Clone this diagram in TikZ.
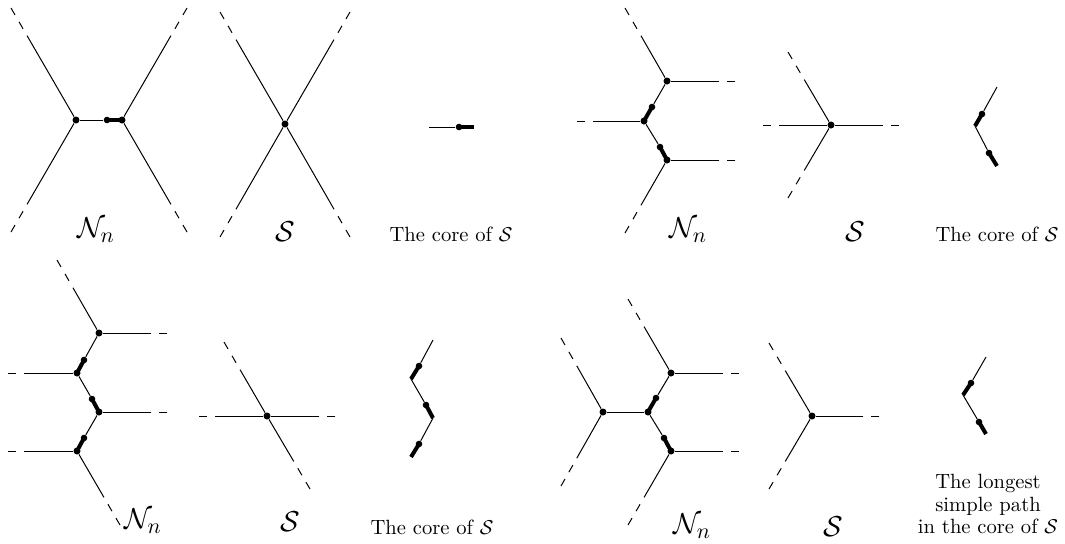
\documentclass[tikz,border=0pt]{standalone}
\begin{document}
\begin{tikzpicture}[x=0.5pt,y=-0.5pt,
  vtx/.style={circle,fill=black,inner sep=0pt,minimum size=3.5pt},
  tdot/.style={circle,fill=black,inner sep=0pt,minimum size=3.3pt},
  thinedge/.style={line width=0.5pt},
  thickedge/.style={line width=2pt},
  out2/.style={line width=0.5pt,dash pattern=on 4pt off 4pt on 4pt off 4pt on 400pt},
  out1/.style={line width=0.5pt,dash pattern=on 4pt off 4pt on 400pt},
  lab/.style={font=\fontsize{15}{17}\selectfont,inner sep=0pt},
  txt/.style={font=\fontsize{10.3}{11.3}\selectfont,align=center,inner sep=0pt}]
\useasboundingbox (0,0) rectangle (1065,543);

% ---------- Panel 1: N_n (top left)
\node[vtx] (A1) at (76,120) {};
\node[vtx] (B1) at (122,120) {};
\node[tdot] (D1) at (107,120) {};
\coordinate (a1) at (11,8);
\coordinate (a2) at (11,232);
\coordinate (b1) at (187,8);
\coordinate (b2) at (187,232);
\draw[thinedge] (A1) -- (D1);
\draw[thickedge] (D1.center) -- (B1.center);
\draw[out2] (a1) -- (A1);
\draw[out2] (a2) -- (A1);
\draw[out2] (b1) -- (B1);
\draw[out2] (b2) -- (B1);
\node[lab] (L1) at (96,230) {$\mathcal{N}_n$};

% ---------- Panel 2: S (top)
\node[vtx] (C2) at (285,124) {};
\coordinate (c21) at (220,12);
\coordinate (c22) at (350,12);
\coordinate (c23) at (220,237);
\coordinate (c24) at (350,237);
\draw[out2] (c21) -- (C2);
\draw[out2] (c22) -- (C2);
\draw[out2] (c23) -- (C2);
\draw[out2] (c24) -- (C2);
\node[lab] (L2) at (285,232) {$\mathcal{S}$};

% ---------- Panel 3: core (top)
\coordinate (c3a) at (429,127);
\node[tdot] (c3d) at (459,127) {};
\coordinate (c3b) at (474,127);
\draw[thinedge] (c3a) -- (c3d);
\draw[thickedge] (c3d.center) -- (c3b);
\node[txt] (L3) at (451,234) {The core of $\mathcal{S}$};

% ---------- Panel 4: N_n (top right)
\node[vtx] (T4) at (667,81) {};
\node[vtx] (M4) at (644,121) {};
\node[vtx] (B4) at (667,160) {};
\node[tdot] (P4a) at (652,107) {};
\node[tdot] (P4b) at (660,147) {};
\coordinate (e41) at (625,8);
\coordinate (e42) at (735,81);
\coordinate (e43) at (577,121);
\coordinate (e44) at (735,160);
\coordinate (e45) at (625,233);
\draw[thickedge] (M4.center) -- (P4a.center);
\draw[thinedge] (P4a) -- (T4);
\draw[thickedge] (B4.center) -- (P4b.center);
\draw[thinedge] (P4b) -- (M4);
\draw[out2] (e41) -- (T4);
\draw[out1] (e42) -- (T4);
\draw[out1] (e43) -- (M4);
\draw[out1] (e44) -- (B4);
\draw[out2] (e45) -- (B4);
\node[lab] (L4) at (688,230) {$\mathcal{N}_n$};

% ---------- Panel 5: S (top right)
\node[vtx] (V5) at (831,125) {};
\coordinate (e51) at (788,52);
\coordinate (e52) at (788,198);
\coordinate (e53) at (763,125);
\coordinate (e54) at (899,125);
\draw[out2] (e51) -- (V5);
\draw[out2] (e52) -- (V5);
\draw[out1] (e53) -- (V5);
\draw[out1] (e54) -- (V5);
\node[lab] (L5) at (855,232) {$\mathcal{S}$};

% ---------- Panel 6: core (top right)
\coordinate (c6t) at (997,87);
\coordinate (c6m) at (975,126);
\coordinate (c6b) at (997,166);
\node[tdot] (c6p) at (982,114) {};
\node[tdot] (c6q) at (989,153) {};
\draw[thickedge] (c6m) -- (c6p.center);
\draw[thinedge] (c6p) -- (c6t);
\draw[thickedge] (c6b) -- (c6q.center);
\draw[thinedge] (c6q) -- (c6m);
\node[txt] (L6) at (997,234) {The core of $\mathcal{S}$};

% ---------- Panel 7: N_n (bottom left)
\node[vtx] (T7) at (99,333) {};
\node[vtx] (U7) at (77,373) {};
\node[vtx] (W7) at (99,412) {};
\node[vtx] (X7) at (77,451) {};
\node[tdot] (P7a) at (84,360) {};
\node[tdot] (P7b) at (92,399) {};
\node[tdot] (P7c) at (84,438) {};
\coordinate (e71) at (57,260);
\coordinate (e72) at (167,333);
\coordinate (e73) at (8,373);
\coordinate (e74) at (167,412);
\coordinate (e75) at (8,451);
\coordinate (e76) at (120,525);
\draw[thickedge] (U7.center) -- (P7a.center);
\draw[thinedge] (P7a) -- (T7);
\draw[thickedge] (W7.center) -- (P7b.center);
\draw[thinedge] (P7b) -- (U7);
\draw[thickedge] (X7.center) -- (P7c.center);
\draw[thinedge] (P7c) -- (W7);
\draw[out2] (e71) -- (T7);
\draw[out1] (e72) -- (T7);
\draw[out1] (e73) -- (U7);
\draw[out1] (e74) -- (W7);
\draw[out1] (e75) -- (X7);
\draw[out2] (e76) -- (X7);
\node[lab] (L7) at (143,521) {$\mathcal{N}_n$};

% ---------- Panel 8: S (bottom left)
\node[vtx] (V8) at (267,416) {};
\coordinate (e81) at (199,416);
\coordinate (e82) at (335,416);
\coordinate (e83) at (224,342);
\coordinate (e84) at (310,489);
\draw[out1] (e81) -- (V8);
\draw[out1] (e82) -- (V8);
\draw[out2] (e83) -- (V8);
\draw[out2] (e84) -- (V8);
\node[lab] (L8) at (290,522) {$\mathcal{S}$};

% ---------- Panel 9: core (bottom left)
\coordinate (p91) at (433,340);
\coordinate (p92) at (411,379);
\coordinate (p93) at (433,418);
\coordinate (p94) at (411,457);
\node[tdot] (q91) at (419,366) {};
\node[tdot] (q92) at (426,405) {};
\node[tdot] (q93) at (419,444) {};
\draw[thickedge] (p92) -- (q91.center);
\draw[thinedge] (q91) -- (p91);
\draw[thickedge] (p93) -- (q92.center);
\draw[thinedge] (q92) -- (p92);
\draw[thickedge] (p94) -- (q93.center);
\draw[thinedge] (q93) -- (p93);
\node[txt] (L9) at (432,527) {The core of $\mathcal{S}$};

% ---------- Panel 10: N_n (bottom right)
\node[vtx] (L10v) at (603,412) {};
\node[vtx] (M10) at (648,412) {};
\node[vtx] (T10) at (671,373) {};
\node[vtx] (B10) at (671,451) {};
\node[tdot] (P10a) at (656,398) {};
\node[tdot] (P10b) at (664,438) {};
\coordinate (e101) at (561,338);
\coordinate (e102) at (561,486);
\coordinate (e103) at (628,299);
\coordinate (e104) at (739,373);
\coordinate (e105) at (739,451);
\coordinate (e106) at (628,525);
\draw[thinedge] (L10v) -- (M10);
\draw[thickedge] (M10.center) -- (P10a.center);
\draw[thinedge] (P10a) -- (T10);
\draw[thickedge] (B10.center) -- (P10b.center);
\draw[thinedge] (P10b) -- (M10);
\draw[out2] (e101) -- (L10v);
\draw[out2] (e102) -- (L10v);
\draw[out2] (e103) -- (T10);
\draw[out1] (e104) -- (T10);
\draw[out1] (e105) -- (B10);
\draw[out2] (e106) -- (B10);
\node[lab] (L10) at (692,526) {$\mathcal{N}_n$};

% ---------- Panel 11: S (bottom right)
\node[vtx] (V11) at (812,416) {};
\coordinate (e111) at (769,343);
\coordinate (e112) at (769,489);
\coordinate (e113) at (879,416);
\draw[out2] (e111) -- (V11);
\draw[out2] (e112) -- (V11);
\draw[out1] (e113) -- (V11);
\node[lab] (L11) at (833,527) {$\mathcal{S}$};

% ---------- Panel 12: longest simple path
\coordinate (p121) at (986,357);
\coordinate (p122) at (963,395);
\coordinate (p123) at (986,434);
\node[tdot] (q121) at (971,383) {};
\node[tdot] (q122) at (979,422) {};
\draw[thickedge] (p122) -- (q121.center);
\draw[thinedge] (q121) -- (p121);
\draw[thickedge] (p123) -- (q122.center);
\draw[thinedge] (q122) -- (p122);
\node[txt] (L12) at (988,504) {The longest\\simple path\\in the core of $\mathcal{S}$};
\end{tikzpicture}
\end{document}
